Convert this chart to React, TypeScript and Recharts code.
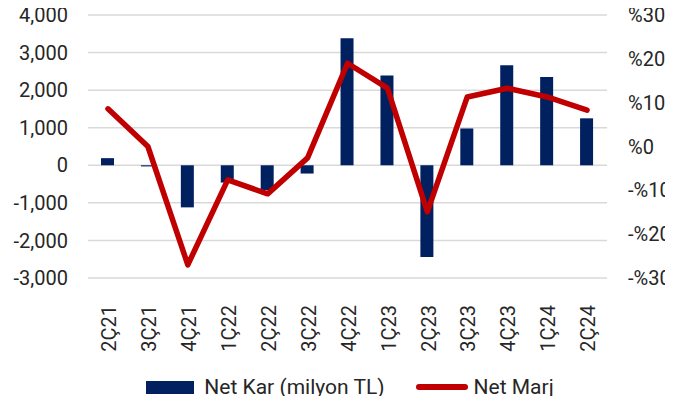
import React from 'react'
import {
  ComposedChart,
  Bar,
  Line,
  XAxis,
  YAxis,
  CartesianGrid,
  Legend,
} from 'recharts'

const quarters = ['2Ç21', '3Ç21', '4Ç21', '1Ç22', '2Ç22', '3Ç22', '4Ç22', '1Ç23', '2Ç23', '3Ç23', '4Ç23', '1Ç24', '2Ç24']
// Net Kar, milyon TL
const netKar = [190, -30, -1120, -460, -660, -220, 3380, 2390, -2440, 980, 2660, 2350, 1250]
// Net Marj, %
const netMarj = [8.6, 0, -27, -7.6, -10.8, -2.6, 19, 13.3, -14.9, 11.3, 13.3, 11.3, 8.3]

const leftTicks = [-3000, -2000, -1000, 0, 1000, 2000, 3000, 4000]
const rightTicks = [-30, -20, -10, 0, 10, 20, 30]

const data = quarters.map((q, i) => ({ q, kar: netKar[i], marj: netMarj[i] }))

const FONT = 'Roboto, "Noto Sans", sans-serif'
const FS = 20
const TEXT = '#262626'
const NAVY = '#002060'
const RED = '#C00000'

const fmtLeft = (v: number) => v.toLocaleString('en-US')
const fmtRight = (v: number) => (v < 0 ? '-%' + Math.abs(v) : '%' + v)

function QuarterTick(props: any) {
  const { x, y, payload } = props
  return (
    <text
      x={0}
      y={0}
      transform={`translate(${x + 1},${y + 19}) rotate(-90)`}
      textAnchor="end"
      dy="0.36em"
      fontSize={FS}
      fontFamily={FONT}
      fill={TEXT}
    >
      {payload.value}
    </text>
  )
}

function LegendBox() {
  return (
    <div
      style={{
        display: 'flex',
        justifyContent: 'center',
        alignItems: 'center',
        height: 30,
        fontFamily: FONT,
        fontSize: 21,
        color: TEXT,
      }}
    >
      <span style={{ display: 'inline-block', width: 48, height: 13, background: NAVY, marginRight: 10 }} />
      <span style={{ marginRight: 31 }}>Net Kar (milyon TL)</span>
      <span style={{ display: 'inline-block', width: 52, height: 6, borderRadius: 3, background: RED, marginRight: 6 }} />
      <span>Net Marj</span>
    </div>
  )
}

export default function App() {
  return (
    <div style={{ margin: -8, width: 683, height: 404, background: '#fff' }}>
      <div style={{ width: 665, height: 404, overflow: 'hidden' }}>
        <ComposedChart
          width={720}
          height={404}
          data={data}
          margin={{ top: 15, right: 0, bottom: 2, left: 0 }}
        >
          <CartesianGrid yAxisId="left" vertical={false} stroke="#d9d9d9" strokeWidth={1.5} />
          <XAxis
            dataKey="q"
            interval={0}
            height={94}
            axisLine={false}
            tickLine={false}
            tick={<QuarterTick />}
          />
          <YAxis
            yAxisId="left"
            width={88}
            domain={[-3000, 4000]}
            ticks={leftTicks}
            tickFormatter={fmtLeft}
            axisLine={false}
            tickLine={false}
            tickSize={0}
            tickMargin={20}
            tick={{ fontSize: FS, fontFamily: FONT, fill: TEXT }}
          />
          <YAxis
            yAxisId="right"
            orientation="right"
            width={113}
            domain={[-30, 30]}
            ticks={rightTicks}
            tickFormatter={fmtRight}
            axisLine={false}
            tickLine={false}
            tickSize={0}
            tickMargin={21}
            tick={{ fontSize: FS, fontFamily: FONT, fill: TEXT }}
          />
          <Legend
            verticalAlign="bottom"
            height={30}
            content={<LegendBox />}
            wrapperStyle={{ left: 0, width: 700 }}
          />
          <Bar yAxisId="left" dataKey="kar" name="Net Kar (milyon TL)" fill={NAVY} barSize={13} isAnimationActive={false} />
          <Line
            yAxisId="right"
            type="linear"
            dataKey="marj"
            name="Net Marj"
            stroke={RED}
            strokeWidth={5.5}
            strokeLinejoin="round"
            strokeLinecap="round"
            dot={false}
            isAnimationActive={false}
          />
        </ComposedChart>
      </div>
    </div>
  )
}
